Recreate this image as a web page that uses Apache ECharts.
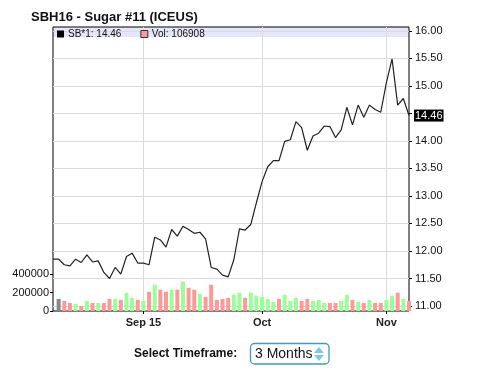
<!DOCTYPE html>
<html>
<head>
<meta charset="utf-8">
<script src="https://cdn.jsdelivr.net/npm/echarts@6/dist/echarts.min.js"></script>
<style>
	html, body { margin: 0; padding: 0; background: #fff; }
	#main { width: 480px; height: 372px; }
</style>
</head>
<body>
<div id="main"></div>
<script>
	// trading days, Aug 10 - Nov 6 2015
	var dates = [
		'2015-08-10', '2015-08-11', '2015-08-12', '2015-08-13', '2015-08-14', '2015-08-17', '2015-08-18', '2015-08-19',
		'2015-08-20', '2015-08-21', '2015-08-24', '2015-08-25', '2015-08-26', '2015-08-27', '2015-08-28', '2015-08-31',
		'2015-09-01', '2015-09-02', '2015-09-03', '2015-09-04', '2015-09-08', '2015-09-09', '2015-09-10', '2015-09-11',
		'2015-09-14', '2015-09-15', '2015-09-16', '2015-09-17', '2015-09-18', '2015-09-21', '2015-09-22', '2015-09-23',
		'2015-09-24', '2015-09-25', '2015-09-28', '2015-09-29', '2015-09-30', '2015-10-01', '2015-10-02', '2015-10-05',
		'2015-10-06', '2015-10-07', '2015-10-08', '2015-10-09', '2015-10-12', '2015-10-13', '2015-10-14', '2015-10-15',
		'2015-10-16', '2015-10-19', '2015-10-20', '2015-10-21', '2015-10-22', '2015-10-23', '2015-10-26', '2015-10-27',
		'2015-10-28', '2015-10-29', '2015-10-30', '2015-11-02', '2015-11-03', '2015-11-04', '2015-11-05', '2015-11-06'
	];
	// 收盘价
	var prices = [
		11.85, 11.85, 11.75, 11.73, 11.85, 11.79, 11.93, 11.80, 11.82, 11.61, 11.50, 11.70, 11.58, 11.90, 11.96, 11.78,
		11.78, 11.75, 12.25, 12.20, 12.07, 12.39, 12.27, 12.45, 12.39, 12.32, 12.34, 12.22, 11.70, 11.67, 11.56, 11.53,
		11.84, 12.40, 12.38, 12.48, 12.88, 13.26, 13.53, 13.64, 13.64, 13.99, 14.02, 14.35, 14.24, 13.83, 14.09, 14.14,
		14.27, 14.26, 14.06, 14.20, 14.61, 14.29, 14.65, 14.43, 14.65, 14.57, 14.52, 15.06, 15.49, 14.65, 14.77, 14.46
	];
	// 成交量
	var volumes = [
		null, 131000, 109000, 87000, 77000, 55000, 109000, 87000, 87000, 87000, 131000, 131000, 120000, 197000, 142000, 120000,
		109000, 208000, 284000, 230000, 208000, 230000, 230000, 317000, 251000, 230000, 186000, 153000, 284000, 120000, 131000, 142000,
		175000, 197000, 142000, 197000, 164000, 153000, 131000, 98000, 131000, 175000, 109000, 142000, 109000, 131000, 109000, 120000,
		87000, 87000, 87000, 109000, 175000, 120000, 98000, 87000, 120000, 87000, 87000, 120000, 164000, 197000, 131000, 106908
	];
	// u = up, d = down, n = unchanged
	var moves = [
		null, 'n', 'd', 'd', 'u', 'd', 'u', 'd', 'u', 'd', 'd', 'u', 'd', 'u', 'u', 'd',
		'u', 'd', 'u', 'd', 'd', 'u', 'd', 'u', 'd', 'd', 'u', 'd', 'd', 'd', 'd', 'd',
		'u', 'u', 'd', 'u', 'u', 'u', 'u', 'u', 'd', 'u', 'u', 'u', 'd', 'd', 'u', 'u',
		'u', 'd', 'd', 'u', 'u', 'd', 'u', 'd', 'u', 'd', 'd', 'u', 'u', 'd', 'u', 'd'
	];
	var tickDates = ['2015-09-01', '2015-10-01', '2015-11-02'];
	var tickTexts = ['Sep 15', 'Oct', 'Nov'];
	var priceTicks = [11, 16, 0.5];
	var volTicks = [0, 400000, 200000];

	var moveColor = { u: '#99ff99', d: '#ff9999', n: '#888888' };
	var font = 'Liberation Sans, Arial, sans-serif';
	var lastPrice = prices[prices.length - 1];
	var lastVol = volumes[volumes.length - 1];
	var priceName = 'SB*1: ' + lastPrice.toFixed(2);
	var volName = 'Vol: ' + lastVol;

	var isTick = function(idx, val) {
		return tickDates.indexOf(dates[idx]) > -1;
	};

	var barData = [];
	for (var i = 0; i < volumes.length; i++) {
		barData.push({
			value: volumes[i],
			itemStyle: { color: moves[i] ? moveColor[moves[i]] : 'transparent' }
		});
	};

	var myChart = echarts.init(document.getElementById('main'));
	var L = 53, R = 71;
	var option = {
		animation: false,
		title: {
			text: 'SBH16 - Sugar #11 (ICEUS)',
			left: 31, top: 11, padding: 0,
			textStyle: { fontFamily: font, fontSize: 13, fontWeight: 'bold', color: '#111' }
		},
		legend: {
			left: 57, top: 29, padding: 0,
			icon: 'rect', itemWidth: 7, itemHeight: 7, itemGap: 19,
			selectedMode: false,
			textStyle: { fontFamily: font, fontSize: 10, color: '#111', padding: [0, 0, 0, -1] },
			data: [
				{ name: priceName, itemStyle: { color: '#000' } },
				{ name: volName, itemStyle: { color: '#ff9999', borderColor: '#333', borderWidth: 1 } }
			]
		},
		graphic: [
			{ type: 'rect', z: -1, shape: { x: L, y: 27, width: 480 - L - R, height: 10 }, style: { fill: '#e6e6fa' } },
			{ type: 'text', x: 134, y: 354, style: { text: 'Select Timeframe:', font: 'bold 12px ' + font, fill: '#111', verticalAlign: 'middle' } },
			{ type: 'rect', shape: { x: 250.5, y: 343.5, width: 78.5, height: 20.5, r: 4 }, style: { fill: '#fff', stroke: '#3d9bc4', lineWidth: 1.3 } },
			{ type: 'text', x: 255, y: 354.5, style: { text: '3 Months', font: '14px ' + font, fill: '#111', verticalAlign: 'middle' } },
			{ type: 'polygon', shape: { points: [[314, 353], [324, 353], [319, 347]] }, style: { fill: '#80c8e8' } },
			{ type: 'polygon', shape: { points: [[314, 355], [324, 355], [319, 361]] }, style: { fill: '#80c8e8' } }
		],
		grid: [
			{ left: L, right: R, top: 27, height: 284, show: true, borderColor: '#000', borderWidth: 1, backgroundColor: 'transparent' },
			{ left: L, right: R, top: 30.8, height: 275.2 },
			{ left: L, right: R, top: 274, height: 37 }
		],
		xAxis: [{
			gridIndex: 0, type: 'category', data: dates, boundaryGap: false,
			axisLine: { show: false },
			axisTick: { show: true, interval: isTick, length: 3, lineStyle: { color: '#000' } },
			axisLabel: {
				interval: isTick, margin: 6,
				fontFamily: font, fontSize: 11, fontWeight: 'bold', color: '#222',
				formatter: function(val) {
					return tickTexts[tickDates.indexOf(val)];
				}
			},
			splitLine: { show: true, interval: isTick, lineStyle: { color: '#dadada', width: 1 } }
		}, {
			gridIndex: 1, type: 'category', data: dates, boundaryGap: false, show: false
		}, {
			gridIndex: 2, type: 'category', data: dates, boundaryGap: false, show: false
		}],
		yAxis: [{
			gridIndex: 0, type: 'value', show: false
		}, {
			gridIndex: 1, type: 'value', position: 'right',
			min: priceTicks[0], max: priceTicks[1], interval: priceTicks[2],
			axisLine: { show: false },
			axisTick: { show: true, length: 3, lineStyle: { color: '#000' } },
			axisLabel: {
				margin: 6, fontFamily: font, fontSize: 11, color: '#111',
				formatter: function(val) {
					// 被最新价标签遮住
					return Math.abs(val - lastPrice) < 0.15 ? '' : val.toFixed(2);
				}
			},
			splitLine: { show: true, lineStyle: { color: '#dadada', width: 1 } }
		}, {
			gridIndex: 2, type: 'value', position: 'left',
			min: volTicks[0], max: volTicks[1], interval: volTicks[2],
			axisLine: { show: false },
			axisTick: { show: true, length: 3, lineStyle: { color: '#000' } },
			axisLabel: {
				margin: 4, fontFamily: font, fontSize: 11, color: '#111',
				formatter: function(val) {
					return String(val);
				}
			},
			splitLine: { show: false }
		}],
		series: [{
			name: volName, type: 'bar', xAxisIndex: 2, yAxisIndex: 2,
			barWidth: 4, itemStyle: { color: '#ff9999' },
			data: barData
		}, {
			name: priceName, type: 'line', xAxisIndex: 1, yAxisIndex: 1,
			symbol: 'none', smooth: false,
			itemStyle: { color: '#000' },
			lineStyle: { color: '#222', width: 1.2 },
			data: prices,
			markLine: {
				silent: true, symbol: 'none', z: 10,
				lineStyle: { color: 'rgba(0,0,0,0)', width: 0 },
				label: {
					show: true, position: 'end', distance: 5,
					backgroundColor: '#000', color: '#fff', padding: [1, 1, 0, 1],
					fontFamily: font, fontSize: 11,
					formatter: function(p) {
						return Number(p.value).toFixed(2);
					}
				},
				data: [{ yAxis: lastPrice }]
			}
		}]
	};
	myChart.setOption(option);
</script>
</body>
</html>
